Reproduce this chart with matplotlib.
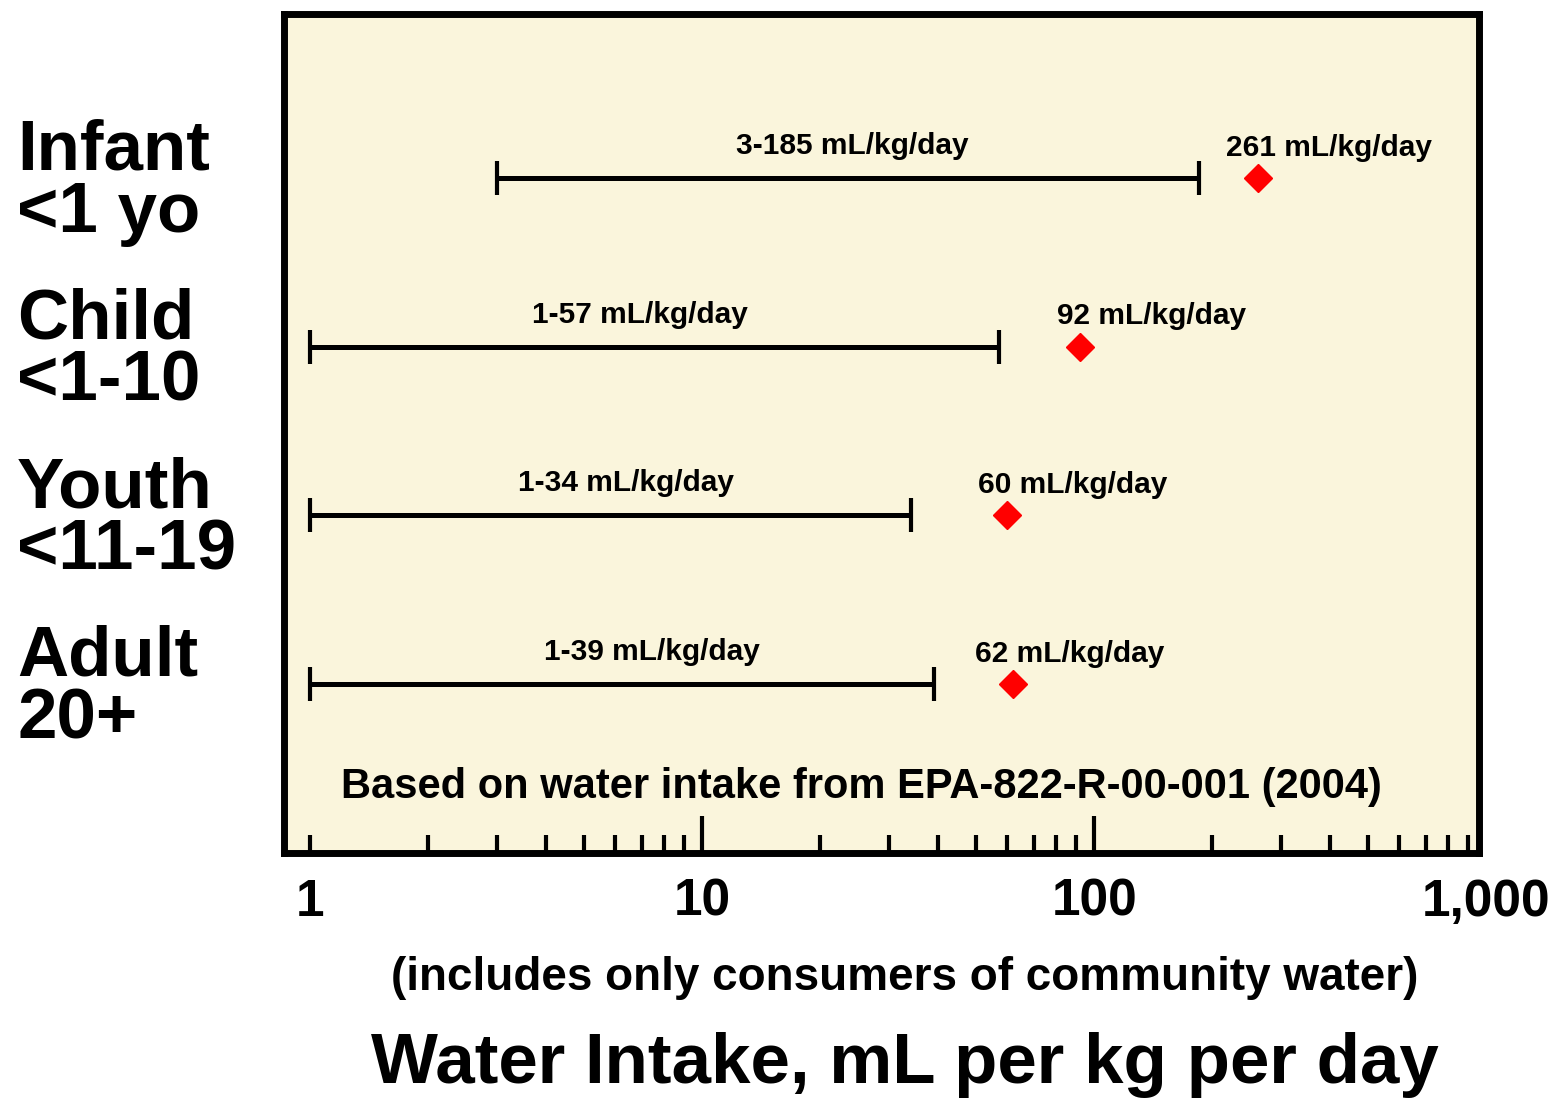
import matplotlib.pyplot as plt
from matplotlib.ticker import FixedLocator, NullFormatter
from matplotlib.transforms import blended_transform_factory

plt.rcParams['font.family'] = ['Liberation Sans', 'DejaVu Sans']
plt.rcParams['font.weight'] = 'bold'

# === DATOS ===
groups = ["Infant\n<1 yo", "Child\n<1-10", "Youth\n<11-19", "Adult\n20+"]
range_low = [3, 1, 1, 1]
range_high = [185, 57, 34, 39]
upper_pct = [261, 92, 60, 62]
range_labels = ["3-185 mL/kg/day", "1-57 mL/kg/day", "1-34 mL/kg/day", "1-39 mL/kg/day"]
upper_labels = ["261 mL/kg/day", "92 mL/kg/day", "60 mL/kg/day", "62 mL/kg/day"]
range_label_x = [24.1, 6.95, 6.4, 7.45]
upper_label_x = [217, 80.5, 50.6, 49.7]
tick_vals = [1, 10, 100, 1000]
tick_text = ["1", "10", "100", "1,000"]

fig = plt.figure(figsize=(15.63, 10.99), dpi=100)
ax = fig.add_axes([0.182, 0.224, 0.764, 0.763])
ax.set_facecolor("#faf5dc")

ypos = list(range(len(groups)))
for i in ypos:
    lo, hi = range_low[i], range_high[i]
    mid = (lo * hi) ** 0.5
    ax.errorbar([mid], [i], xerr=[[mid - lo], [hi - mid]],
                fmt='none', ecolor='black', elinewidth=3.6, capsize=12, capthick=3)
    ax.plot(upper_pct[i], i, marker='D', color='red', markersize=14, linestyle='none')
    ax.text(range_label_x[i], i - 0.19, range_labels[i], ha='center', va='center', fontsize=21.5)
    ax.text(upper_label_x[i], i - 0.18, upper_labels[i], ha='left', va='center', fontsize=21.5)

ax.set_xscale('log')
ax.set_xlim(0.86, 955)
ax.set_ylim(3 + 1.0, -0.97)

# ticks
ax.xaxis.set_major_locator(FixedLocator([10, 100]))
ax.xaxis.set_minor_locator(FixedLocator([1, 2, 3, 4, 5, 6, 7, 8, 9, 20, 30, 40, 50, 60, 70, 80, 90,
                                         200, 300, 400, 500, 600, 700, 800, 900]))
ax.xaxis.set_major_formatter(NullFormatter())
ax.xaxis.set_minor_formatter(NullFormatter())
ax.tick_params(axis='x', which='major', direction='in', length=27, width=3)
ax.tick_params(axis='x', which='minor', direction='in', length=13, width=3)
ax.set_yticks([])
for s in ax.spines.values():
    s.set_linewidth(5)

trans_x = blended_transform_factory(ax.transData, ax.transAxes)
for v, t in zip(tick_vals, tick_text):
    ax.text(v, -0.03, t, transform=trans_x, ha='center', va='top', fontsize=37, clip_on=False)

trans_y = blended_transform_factory(fig.transFigure, ax.transData)
for i, g in enumerate(groups):
    fig.text(0.011, i + 0.03, g, transform=trans_y, ha='left', va='center', fontsize=51, linespacing=0.93)

ax.text(0.483, 0.078, "Based on water intake from EPA-822-R-00-001 (2004)", transform=ax.transAxes,
        ha='center', va='center', fontsize=30)

fig.text(0.579, 0.11, "(includes only consumers of community water)", ha='center', va='center', fontsize=33)
fig.text(0.579, 0.031, "Water Intake, mL per kg per day", ha='center', va='center', fontsize=51)

fig.savefig("out.png", dpi=100)
